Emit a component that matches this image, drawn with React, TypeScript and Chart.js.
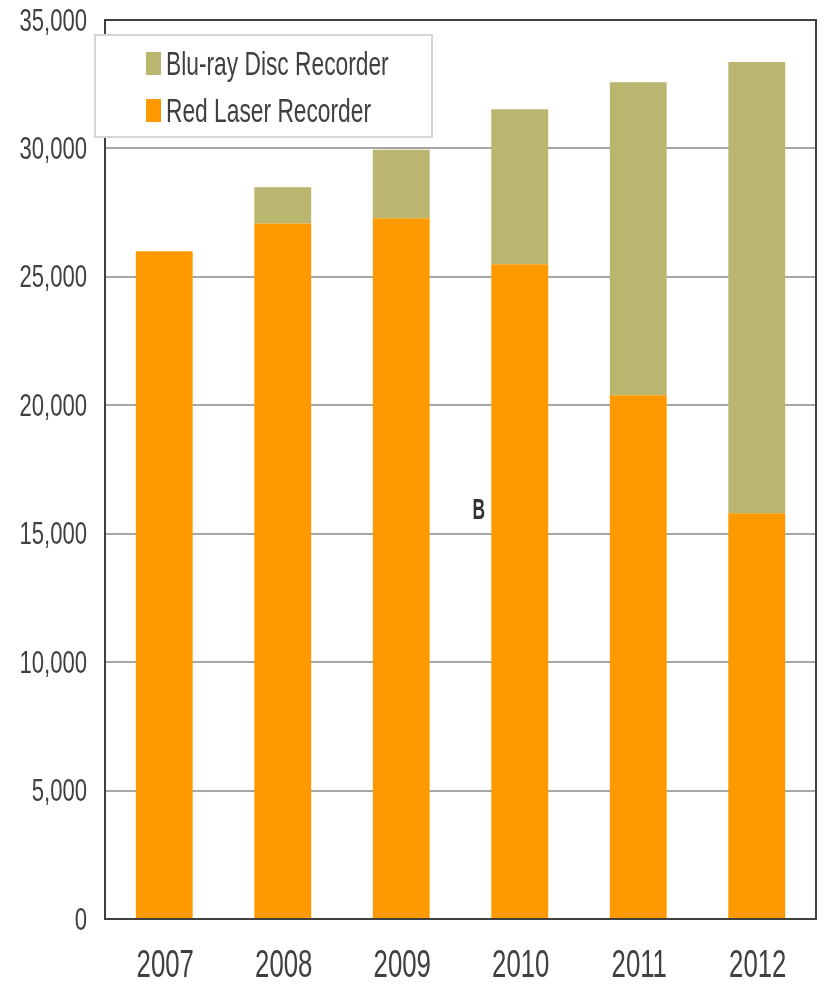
import React, { useEffect, useRef } from "react";
import { Chart, registerables } from "chart.js";

Chart.register(...registerables);

const years = ["2007", "2008", "2009", "2010", "2011", "2012"];
const redLaser = [26000, 27080, 27280, 25490, 20390, 15800];
const bluRay = [0, 1410, 2670, 6040, 12190, 17560];
const yTicks = [0, 5000, 10000, 15000, 20000, 25000, 30000, 35000];
const stampText = "B";

const FONT = "'Liberation Sans', Arial, sans-serif";
const TEXT = "#404040";

function narrowText(ctx: any, text: string, x: number, y: number, size: number, align: string, sx: number, bold = false) {
  ctx.save();
  ctx.font = (bold ? "bold " : "") + size + "px " + FONT;
  ctx.textAlign = align;
  ctx.textBaseline = "alphabetic";
  ctx.translate(x, y);
  ctx.scale(sx, 1);
  ctx.fillText(text, 0, 0);
  ctx.restore();
}

const frameAndExtras = {
  id: "frameAndExtras",
  afterDraw(chart: any) {
    const { ctx, chartArea } = chart;
    const xs = chart.scales.x;
    const ys = chart.scales.y;
    ctx.save();
    ctx.strokeStyle = "#404040";
    ctx.lineWidth = 2;
    ctx.strokeRect(chartArea.left, chartArea.top, chartArea.right - chartArea.left, chartArea.bottom - chartArea.top);

    // axis labels (drawn from the scales' own ticks)
    ctx.fillStyle = TEXT;
    ys.ticks.forEach((t: any, i: number) => {
      const py = ys.getPixelForTick(i);
      narrowText(ctx, Number(t.value).toLocaleString("en-US"), chartArea.left - 18, py + 10.5, 32, "right", 0.69);
    });
    xs.ticks.forEach((t: any, i: number) => {
      const px = xs.getPixelForTick(i);
      narrowText(ctx, xs.getLabelForValue(t.value), px + 1, chartArea.bottom + 58, 39, "center", 0.66);
    });

    // stray label
    const spacing = xs.getPixelForValue(3) - xs.getPixelForValue(2);
    const sx = xs.getPixelForValue(3) - 0.345 * spacing;
    ctx.fillStyle = "#333333";
    narrowText(ctx, stampText, sx, ys.getPixelForValue(15980) + 10.5, 29, "center", 0.6, true);

    // legend box
    const bx = 95, by = 35, bw = 337, bh = 102;
    ctx.fillStyle = "#ffffff";
    ctx.fillRect(bx, by, bw, bh);
    ctx.strokeStyle = "#d4d4d4";
    ctx.lineWidth = 2;
    ctx.strokeRect(bx, by, bw, bh);
    const items = [...chart.data.datasets].reverse();
    items.forEach((ds: any, i: number) => {
      const top = 52 + i * 47;
      ctx.fillStyle = ds.backgroundColor;
      ctx.fillRect(146, top, 15, 23);
      ctx.fillStyle = TEXT;
      narrowText(ctx, ds.label, 166, top + 22.5, 33, "left", 0.69);
    });
    ctx.restore();
  },
};

export default function App() {
  const ref = useRef<HTMLCanvasElement>(null);
  useEffect(() => {
    if (!ref.current) return;
    const chart = new Chart(ref.current, {
      type: "bar",
      data: {
        labels: years,
        datasets: [
          { label: "Red Laser Recorder", data: redLaser, backgroundColor: "#FF9900", barPercentage: 0.48, categoryPercentage: 1 },
          { label: "Blu-ray Disc Recorder", data: bluRay, backgroundColor: "#BAB66F", barPercentage: 0.48, categoryPercentage: 1 },
        ],
      },
      options: {
        responsive: false,
        animation: false,
        layout: { padding: { left: 0, right: 9, top: 20, bottom: 0 } },
        plugins: { legend: { display: false }, tooltip: { enabled: false } },
        scales: {
          x: {
            stacked: true,
            grid: { display: false, drawTicks: false },
            border: { display: false },
            ticks: { display: false },
            afterFit: (s: any) => { s.height = 70; },
          },
          y: {
            stacked: true,
            min: 0,
            max: 35000,
            afterBuildTicks: (s: any) => { s.ticks = yTicks.map((v) => ({ value: v })); },
            grid: { color: "#a6a6a6", lineWidth: 2, drawTicks: false },
            border: { display: false },
            ticks: { display: false },
            afterFit: (s: any) => { s.width = 105; },
          },
        },
      },
      plugins: [frameAndExtras],
    });
    return () => chart.destroy();
  }, []);
  return (
    <div style={{ position: "absolute", left: 0, top: 0, width: 825, height: 989, background: "#fff" }}>
      <canvas ref={ref} width={825} height={989} />
    </div>
  );
}
